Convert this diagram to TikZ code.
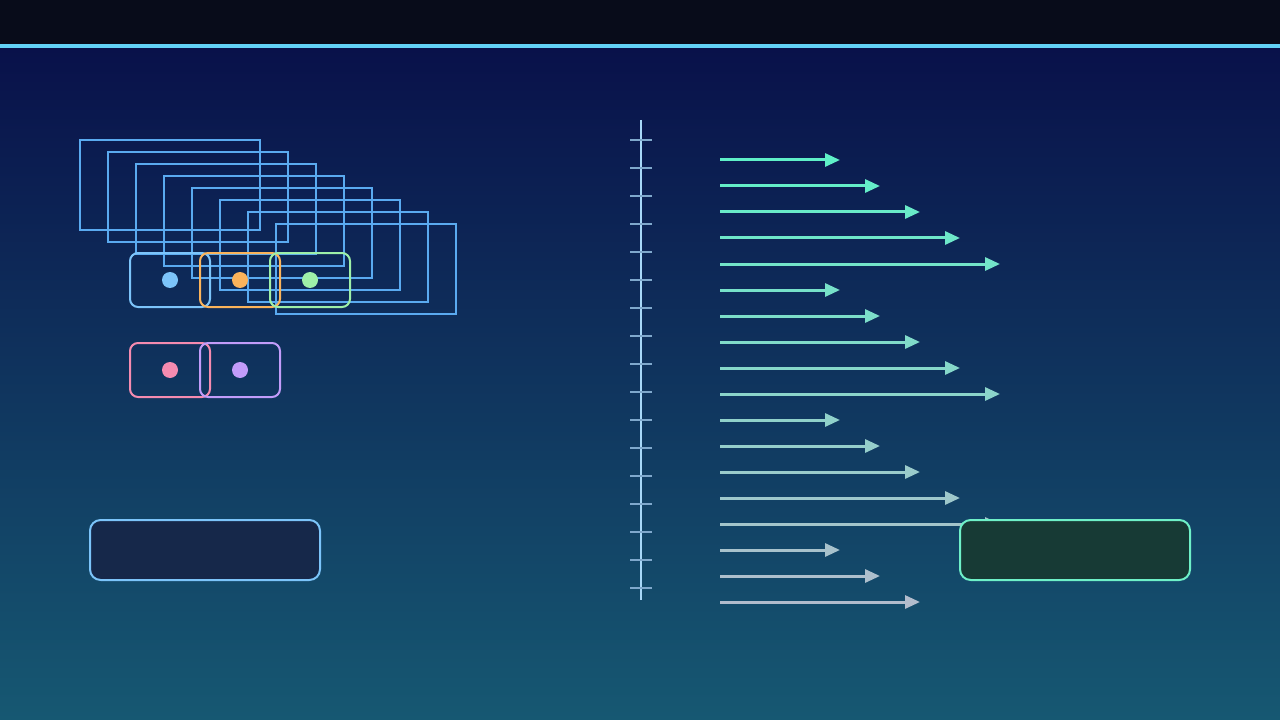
\documentclass[tikz,border=0pt]{standalone}
\usetikzlibrary{arrows.meta}
\definecolor{topbar}{HTML}{080C1A}
\definecolor{cyanline}{HTML}{62D2F6}
\definecolor{bgtop}{HTML}{09114A}
\definecolor{bgbot}{HTML}{165872}
\definecolor{rectblue}{HTML}{5AAAF0}
\definecolor{cblue}{HTML}{7CC4FA}
\definecolor{corange}{HTML}{FBB35A}
\definecolor{cgreen}{HTML}{9EF0A8}
\definecolor{cpink}{HTML}{F58BB0}
\definecolor{cpurple}{HTML}{C29CFA}
\definecolor{mintc}{HTML}{5FF0C8}
\definecolor{greyc}{HTML}{B2BCCC}
\definecolor{axisc}{HTML}{A8D8F8}
\definecolor{tickc}{HTML}{7FA8CC}
\definecolor{boxfillL}{HTML}{16284A}
\definecolor{boxfillR}{HTML}{173A35}
\definecolor{cmint}{HTML}{6EF0C8}
\tikzset{
  frame/.style={draw=rectblue, line width=1.5pt, fill=none},
  slot/.style={draw=#1, line width=1.5pt, rounded corners=6pt, minimum width=80*0.75pt, minimum height=54*0.75pt, inner sep=0pt, outer sep=0pt},
  dotm/.style={circle, fill=#1, minimum size=16*0.75pt, inner sep=0pt},
  bigbox/.style={draw=#1, line width=1.5pt, rounded corners=8pt, minimum width=230*0.75pt, minimum height=60*0.75pt, inner sep=0pt},
  flow/.style={line width=2.25pt, -{Triangle[length=15*0.75pt, width=13*0.75pt]}},
}
\begin{document}
\begin{tikzpicture}[x=0.75pt, y=-0.75pt]
\useasboundingbox (0,0) rectangle (1280,720);
% background
\fill[topbar] (0,0) rectangle (1280,44);
\shade[top color=bgtop, bottom color=bgbot] (0,48) rectangle (1280,720);
\fill[cyanline] (0,44) rectangle (1280,48);
% stacked frames
\foreach \k in {0,...,7} {
  \draw[frame] (80+28*\k,140+12*\k) rectangle ++(180,90);
}
% slots with dots
\node[slot=cblue] (sa) at (170,280) {};
\node[slot=corange] (sb) at (240,280) {};
\node[slot=cgreen] (sc) at (310,280) {};
\node[dotm=cblue] (da) at (sa.center) {};
\node[dotm=corange] (db) at (sb.center) {};
\node[dotm=cgreen] (dc) at (sc.center) {};
\node[slot=cpink] (sd) at (170,370) {};
\node[slot=cpurple] (se) at (240,370) {};
\node[dotm=cpink] (dd) at (sd.center) {};
\node[dotm=cpurple] (de) at (se.center) {};
% axis
\coordinate (axtop) at (641,120);
\coordinate (axbot) at (641,600);
\draw[axisc, line width=1.5pt] (axtop) -- (axbot);
\foreach \t in {0,...,16} {
  \coordinate (tl\t) at (630,140+28*\t);
  \coordinate (tr\t) at (652,140+28*\t);
  \draw[tickc, line width=0.9pt] (tl\t) -- (tr\t);
}
% arrows
\foreach \i in {0,...,17} {
  \pgfmathsetmacro{\p}{100-\i*100/17}
  \pgfmathtruncatemacro{\m}{mod(\i,5)}
  \colorlet{arrc}{mintc!\p!greyc}
  \coordinate (as\i) at (720,160+26*\i);
  \coordinate (ae\i) at (840+40*\m,160+26*\i);
  \draw[flow, draw=arrc, fill=arrc] (as\i) -- (ae\i);
}
% bottom boxes
\node[bigbox=cblue, fill=boxfillL] (leftbox) at (205,550) {};
\node[bigbox=cmint, fill=boxfillR] (rightbox) at (1075,550) {};
\end{tikzpicture}
\end{document}
